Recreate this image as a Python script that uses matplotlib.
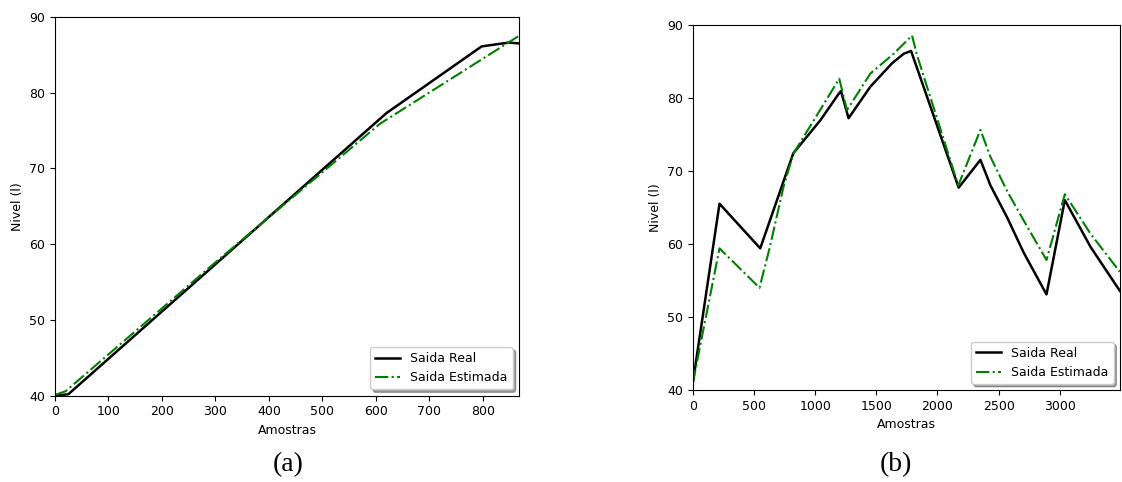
import matplotlib
matplotlib.use('Agg')
import matplotlib.pyplot as plt

# (a) - enchimento continuo
a_real_x = [0, 25, 620, 798, 848, 868]
a_real_y = [40.0, 40.2, 77.3, 86.1, 86.6, 86.5]
a_est_x = [0, 20, 300, 608, 868]
a_est_y = [40.1, 40.6, 57.6, 75.9, 87.5]

# (b) - varios degraus
b_real_x = [0, 218, 551, 821, 1042, 1191, 1211, 1273, 1451, 1628, 1723, 1784,
            2173, 2351, 2433, 2570, 2705, 2891, 3041, 3251, 3490]
b_real_y = [41.0, 65.5, 59.4, 72.4, 76.9, 80.5, 80.9, 77.2, 81.5, 84.7, 86.0, 86.4,
            67.7, 71.5, 68.0, 63.6, 58.8, 53.1, 66.0, 59.6, 53.6]
b_est_x = [0, 218, 545, 627, 741, 823, 974, 1197, 1260, 1451, 1641, 1792, 1833,
           2170, 2351, 2433, 2570, 2705, 2891, 3041, 3251, 3490]
b_est_y = [41.0, 59.4, 54.0, 59.4, 67.8, 72.4, 76.5, 82.6, 78.3, 83.3, 86.0, 88.5, 85.8,
           68.0, 75.6, 71.9, 67.2, 63.2, 57.8, 66.8, 61.4, 56.2]

fig = plt.figure(figsize=(11.22, 4.82), dpi=100)
ax1 = fig.add_axes([0.049, 0.179, 0.4136, 0.786])
ax2 = fig.add_axes([0.6175, 0.1905, 0.3805, 0.7585])

for ax, rx, ry, ex, ey, xmax in [(ax1, a_real_x, a_real_y, a_est_x, a_est_y, 868),
                                  (ax2, b_real_x, b_real_y, b_est_x, b_est_y, 3490)]:
    ax.plot(rx, ry, color='black', lw=1.8, label='Saida Real')
    ax.plot(ex, ey, color='green', lw=1.5, ls='-.', label='Saida Estimada')
    ax.set_xlim(0, xmax)
    ax.set_ylim(40, 90)
    ax.tick_params(labelsize=9)
    ax.set_xlabel('Amostras', fontsize=9)
    ax.set_ylabel('Nivel (l)', fontsize=9)
    ax.legend(loc='lower right', fontsize=9, shadow=True, fancybox=True)

ax1.set_xticks([0, 100, 200, 300, 400, 500, 600, 700, 800])
ax2.set_xticks([0, 500, 1000, 1500, 2000, 2500, 3000])

fig.text(288 / 1122, 1 - 465 / 482, '(a)', ha='center', va='center',
         fontsize=20, family='Liberation Serif')
fig.text(896 / 1122, 1 - 465 / 482, '(b)', ha='center', va='center',
         fontsize=20, family='Liberation Serif')

plt.savefig('out.png', dpi=100)
